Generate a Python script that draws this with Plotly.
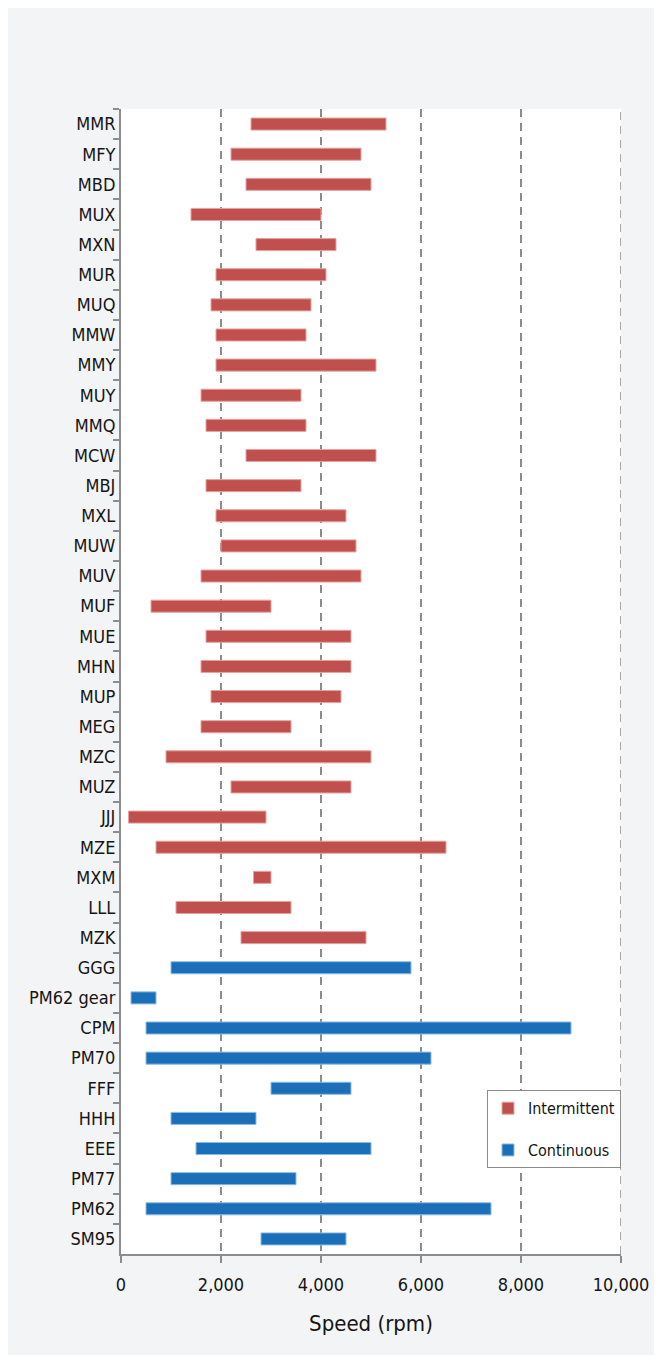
import plotly.graph_objects as go

# Motor speed ranges (rpm), top to bottom as shown
intermittent_names = ["MMR", "MFY", "MBD", "MUX", "MXN", "MUR", "MUQ", "MMW", "MMY", "MUY",
                      "MMQ", "MCW", "MBJ", "MXL", "MUW", "MUV", "MUF", "MUE", "MHN", "MUP",
                      "MEG", "MZC", "MUZ", "JJJ", "MZE", "MXM", "LLL", "MZK"]
intermittent_low = [2600, 2200, 2500, 1400, 2700, 1900, 1800, 1900, 1900, 1600,
                    1700, 2500, 1700, 1900, 2000, 1600, 600, 1700, 1600, 1800,
                    1600, 900, 2200, 150, 700, 2650, 1100, 2400]
intermittent_high = [5300, 4800, 5000, 4000, 4300, 4100, 3800, 3700, 5100, 3600,
                     3700, 5100, 3600, 4500, 4700, 4800, 3000, 4600, 4600, 4400,
                     3400, 5000, 4600, 2900, 6500, 3000, 3400, 4900]

continuous_names = ["GGG", "PM62 gear", "CPM", "PM70", "FFF", "HHH", "EEE", "PM77", "PM62", "SM95"]
continuous_low = [1000, 200, 500, 500, 3000, 1000, 1500, 1000, 500, 2800]
continuous_high = [5800, 700, 9000, 6200, 4600, 2700, 5000, 3500, 7400, 4500]

x_ticks = [0, 2000, 4000, 6000, 8000, 10000]

RED = "#c0504d"
BLUE = "#1a6fb8"
FONT = "DejaVu Sans Condensed, Liberation Sans Narrow, Roboto, sans-serif"

categories = intermittent_names + continuous_names

fig = go.Figure()
fig.add_trace(go.Bar(
    y=intermittent_names,
    x=[h - l for l, h in zip(intermittent_low, intermittent_high)],
    base=intermittent_low,
    orientation="h",
    name="Intermittent",
    legendgroup="a",
    width=0.4,
    marker=dict(color=RED, line=dict(color="#e4a3a1", width=1)),
))
fig.add_trace(go.Bar(
    y=continuous_names,
    x=[h - l for l, h in zip(continuous_low, continuous_high)],
    base=continuous_low,
    orientation="h",
    name="Continuous",
    legendgroup="b",
    width=0.4,
    marker=dict(color=BLUE, line=dict(color="#8fbbe0", width=1)),
))

# dashed line at the right edge (max tick), like the other gridlines
fig.add_shape(type="line", xref="x", yref="paper",
              x0=x_ticks[-1], x1=x_ticks[-1], y0=0, y1=1,
              line=dict(color="#8c8c8c", width=1.5, dash="8px,6px"))

fig.update_layout(
    width=654,
    height=1347,
    margin=dict(l=113, r=41, t=101, b=101),
    paper_bgcolor="#f3f4f6",
    plot_bgcolor="white",
    barmode="overlay",
    font=dict(family=FONT, size=18, color="#151515"),
    legend=dict(
        x=0.732, y=0.143, xanchor="left", yanchor="top",
        bgcolor="white", bordercolor="#8c8c8c", borderwidth=1,
        traceorder="grouped", tracegroupgap=18,
        font=dict(size=16),
    ),
    xaxis=dict(
        range=[0, 10000],
        tickvals=x_ticks,
        tickformat=",",
        showgrid=True,
        gridcolor="#8c8c8c",
        gridwidth=1.5,
        griddash="8px,6px",
        zeroline=False,
        showline=True,
        linecolor="#8c8c8c",
        linewidth=2,
        ticks="outside",
        ticklen=7,
        tickcolor="#8c8c8c",
        tickwidth=2,
        ticklabelstandoff=6,
        title=dict(text="Speed (rpm)", standoff=22),
    ),
    yaxis=dict(
        categoryorder="array",
        categoryarray=categories,
        range=[len(categories) - 0.5, -0.5],
        showgrid=False,
        showline=True,
        linecolor="#8c8c8c",
        linewidth=2,
        ticks="outside",
        tickson="boundaries",
        ticklen=6,
        tickcolor="#8c8c8c",
        tickwidth=2,
    ),
)

fig.write_html("out.html")
